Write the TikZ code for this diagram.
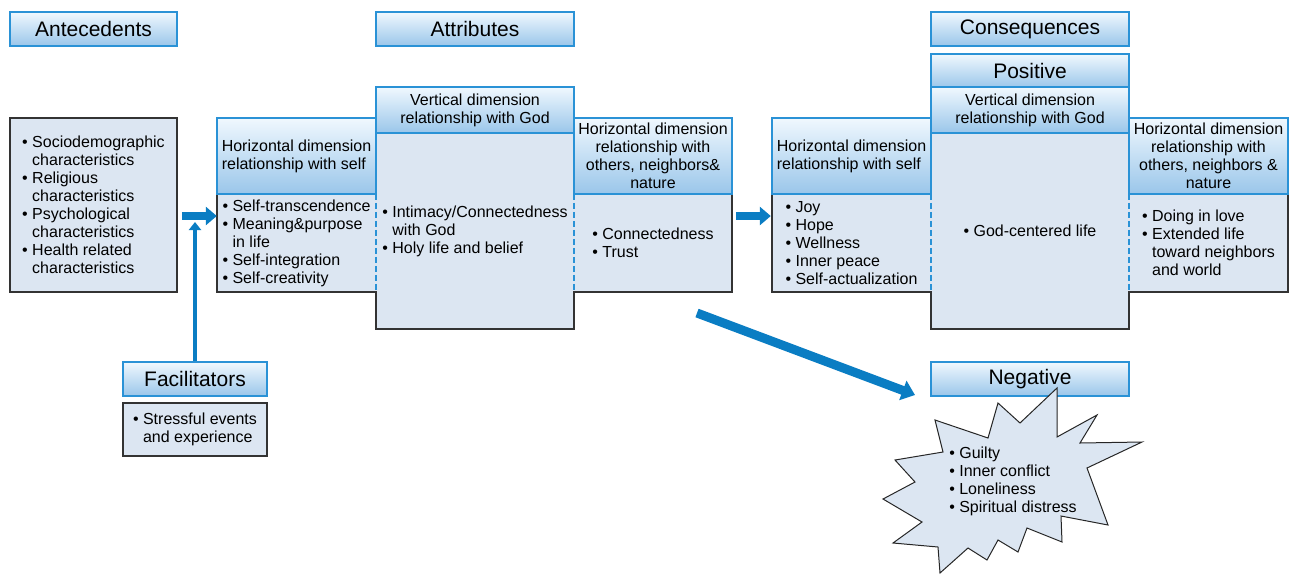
\documentclass[tikz,border=0pt]{standalone}
\usepackage{fontspec}
\setmainfont{Liberation Sans}
\usetikzlibrary{arrows.meta}
\definecolor{hdrline}{HTML}{2A92D6}
\definecolor{hdrtop}{HTML}{F0F8FE}
\definecolor{hdrbot}{HTML}{9AC6EA}
\definecolor{bodyfill}{HTML}{DCE6F2}
\definecolor{darkline}{HTML}{333333}
\definecolor{arrowblue}{HTML}{0A7DC3}
\newcommand\bfs{\fontsize{16}{18}\selectfont}
\newcommand\hfs{\fontsize{21}{24}\selectfont}
\newcommand\bl{\makebox[10pt][l]{•}}
\newcommand\ind{\hspace*{10pt}}
\tikzset{
 hdr/.style={draw=hdrline, line width=1.5pt, top color=hdrtop, bottom color=hdrbot, inner sep=0pt, font=\hfs, minimum height=34pt},
 subhdr/.style={draw=hdrline, line width=1.4pt, top color=hdrtop, bottom color=hdrbot, inner sep=0pt, font=\bfs, align=center},
 body/.style={fill=bodyfill, inner sep=0pt, font=\bfs, align=left},
 dbox/.style={body, draw=darkline, line width=1.5pt},
 outline/.style={draw=darkline, line width=1.5pt},
 divider/.style={draw=hdrline, line width=1.7pt, dash pattern=on 6pt off 3pt},
 bigarrow/.style={draw=arrowblue, line width=8pt, -{Triangle[width=18pt,length=11pt]}},
 varrow/.style={draw=arrowblue, line width=4pt, -{Triangle[width=12pt,length=8pt]}},
 diagarrow/.style={draw=arrowblue, line width=9pt, -{Triangle[width=20pt,length=13pt]}},
 starshape/.style={fill=bodyfill, draw=black!85, line width=1pt, line join=miter},
 txt/.style={font=\bfs, align=left, inner sep=0pt}
}
\begin{document}
\begin{tikzpicture}[x=1pt,y=-1pt]
\useasboundingbox (0,0) rectangle (1289,574);

% top headers
\node[hdr, minimum width=167pt] (hAnte) at (93.5,29) {Antecedents};
\node[hdr, minimum width=198pt] (hAttr) at (475,29) {Attributes};
\node[hdr, minimum width=198pt] (hCons) at (1030,29) {Consequences};
\node[hdr, minimum width=198pt] (hPos) at (1030,71) {Positive};

% antecedents and facilitators
\node[dbox, minimum width=167pt, minimum height=174pt] (antec) at (93.5,205)
 {\bl Sociodemographic\\ \ind characteristics\\ \bl Religious\\ \ind characteristics\\ \bl Psychological\\ \ind characteristics\\ \bl Health related\\ \ind characteristics};
\node[hdr, minimum width=144pt] (hFac) at (195,379) {Facilitators};
\node[dbox, minimum width=144pt, minimum height=53pt] (facb) at (195,429.5)
 {\bl Stressful events\\ \ind and experience};

% attributes bodies
\node[body, minimum width=159pt, minimum height=98pt] (aLb) at (296.5,243)
 {\bl Self-transcendence\\ \bl Meaning\&purpose\\ \ind in life\\ \bl Self-integration\\ \bl Self-creativity};
\node[body, minimum width=198pt, minimum height=196pt] (aMb) at (475,231)
 {\bl Intimacy/Connectedness\\ \ind with God\\ \bl Holy life and belief};
\node[body, minimum width=158pt, minimum height=98pt] (aRb) at (653,243)
 {\bl Connectedness\\ \bl Trust};
\draw[outline] (aLb.north west) -- (aLb.south west) -- (aMb.west |- aLb.south) -- (aMb.south west)
 -- (aMb.south east) -- (aMb.east |- aRb.south) -- (aRb.south east) -- (aRb.north east);
\draw[divider] (aLb.north east) -- (aLb.south east);
\draw[divider] (aRb.north west) -- (aRb.south west);
\node[subhdr, align=left, minimum width=159pt, minimum height=76pt] (aLh) at (296.5,156)
 {Horizontal dimension\\relationship with self};
\node[subhdr, minimum width=198pt, minimum height=46pt] (aMh) at (475,110)
 {Vertical dimension\\relationship with God};
\node[subhdr, minimum width=158pt, minimum height=76pt] (aRh) at (653,156)
 {Horizontal dimension\\relationship with\\others, neighbors\&\\nature};

% consequences bodies
\node[body, minimum width=159pt, minimum height=98pt] (cLb) at (851.5,243)
 {\bl Joy\\ \bl Hope\\ \bl Wellness\\ \bl Inner peace\\ \bl Self-actualization};
\node[body, minimum width=198pt, minimum height=196pt] (cMb) at (1030,231)
 {\bl God-centered life};
\node[body, minimum width=159pt, minimum height=98pt] (cRb) at (1208.5,243)
 {\bl Doing in love\\ \bl Extended life\\ \ind toward neighbors\\ \ind and world};
\draw[outline] (cLb.north west) -- (cLb.south west) -- (cMb.west |- cLb.south) -- (cMb.south west)
 -- (cMb.south east) -- (cMb.east |- cRb.south) -- (cRb.south east) -- (cRb.north east);
\draw[divider] (cLb.north east) -- (cLb.south east);
\draw[divider] (cRb.north west) -- (cRb.south west);
\node[subhdr, align=left, minimum width=159pt, minimum height=76pt] (cLh) at (851.5,156)
 {Horizontal dimension\\relationship with self};
\node[subhdr, minimum width=198pt, minimum height=46pt] (cMh) at (1030,110)
 {Vertical dimension\\relationship with God};
\node[subhdr, minimum width=159pt, minimum height=76pt] (cRh) at (1208.5,156)
 {Horizontal dimension\\relationship with\\others, neighbors \&\\nature};

% negative
\node[hdr, minimum width=198pt] (hNeg) at (1030,379) {Negative};
\draw[starshape] (1057,388) -- (1057,437) -- (1097,415) -- (1080,443) -- (1142,442) -- (1087,468)
 -- (1108,525) -- (1061,516) -- (1062,542) -- (1027,528) -- (1018,552) -- (998,540)
 -- (987,560) -- (968,548) -- (940,573) -- (938,547) -- (893,543) -- (922,522)
 -- (883,499) -- (915,482) -- (895,460) -- (943,452) -- (935,420) -- (988,438)
 -- (998,403) -- (1020,423) -- cycle;
\node[txt] (negt) at (1013,481.5)
 {\bl Guilty\\ \bl Inner conflict\\ \bl Loneliness\\ \bl Spiritual distress};

% arrows
\coordinate (a1) at (0,216);
\coordinate (a2) at (0,222);
\coordinate (d1) at (697,313);
\coordinate (d2) at (915,395);
\draw[bigarrow, shorten <=4pt] (antec.east |- a1) -- (aLb.west |- a1);
\draw[varrow] (hFac.north) -- (hFac.north |- a2);
\draw[bigarrow, shorten <=4pt, shorten >=1pt] (aRb.east |- a1) -- (cLb.west |- a1);
\draw[diagarrow] (d1) -- (d2);
\end{tikzpicture}
\end{document}
